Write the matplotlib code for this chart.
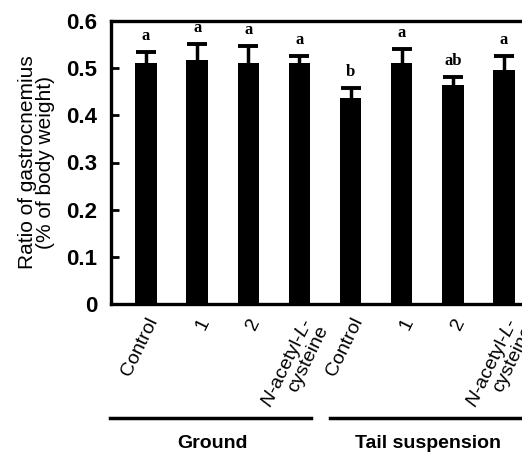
import matplotlib
matplotlib.use("Agg")
import matplotlib.pyplot as plt
import numpy as np

categories = ["Control", "1", "2", r"$\it{N}$-acetyl-$\it{L}$-" + "\ncysteine",
              "Control", "1", "2", r"$\it{N}$-acetyl-$\it{L}$-" + "\ncysteine"]
values = [0.510, 0.517, 0.512, 0.512, 0.437, 0.512, 0.464, 0.497]
errors = [0.024, 0.035, 0.034, 0.014, 0.020, 0.029, 0.018, 0.028]
letters = ["a", "a", "a", "a", "b", "a", "ab", "a"]
groups = ["Ground", "Tail suspension"]
yticks = [0, 0.1, 0.2, 0.3, 0.4, 0.5, 0.6]
yticklabels = ["0", "0.1", "0.2", "0.3", "0.4", "0.5", "0.6"]

plt.rcParams['font.family'] = ['Liberation Sans', 'DejaVu Sans']
plt.rcParams['mathtext.fontset'] = 'custom'
plt.rcParams['mathtext.it'] = 'Liberation Sans:italic'
plt.rcParams['mathtext.rm'] = 'Liberation Sans'

fig = plt.figure(figsize=(5.22, 4.53), dpi=100)
W, H = 522, 453
ax = fig.add_axes([111 / W, (H - 304) / H, 428 / W, 283 / H])

x = np.arange(len(values))
ax.errorbar(x, values, yerr=errors, fmt="none",
            ecolor="black", elinewidth=2.5, capsize=7, capthick=2.8, zorder=1)
ax.bar(x, values, width=0.42, color="black", zorder=2)
for xi, v, e, l in zip(x, values, errors, letters):
    ax.text(xi, v + e + 0.017, l, ha="center", va="bottom",
            fontsize=12, fontweight="bold", family="Liberation Serif")

ax.set_xlim(-0.684, 7.684)
ax.set_ylim(0, 0.6)
ax.set_yticks(yticks)
ax.set_yticklabels(yticklabels, fontsize=16, fontweight="bold")
ax.tick_params(axis="y", direction="in", length=6, width=2, pad=10)
ax.set_xticks(x)
ax.set_xticklabels(categories, rotation=64, ha="right", rotation_mode="anchor",
                   fontsize=14, linespacing=0.85)
ax.tick_params(axis="x", length=0, pad=8)
for s in ax.spines.values():
    s.set_linewidth(2.4)

ax.set_ylabel("Ratio of gastrocnemius\n(% of body weight)", fontsize=15,
              linespacing=0.95, labelpad=8)

# group lines and labels
fig.add_artist(plt.Line2D([110 / W, 311 / W], [1 - 418 / H, 1 - 418 / H],
                          color="black", lw=2.5))
fig.add_artist(plt.Line2D([330 / W, 1.0], [1 - 418 / H, 1 - 418 / H],
                          color="black", lw=2.5))
fig.text(212 / W, 1 - 443 / H, groups[0], ha="center", va="center",
         fontsize=14, fontweight="bold")
fig.text(428 / W, 1 - 443 / H, groups[1], ha="center", va="center",
         fontsize=14, fontweight="bold")

fig.savefig("out.png", dpi=100)
